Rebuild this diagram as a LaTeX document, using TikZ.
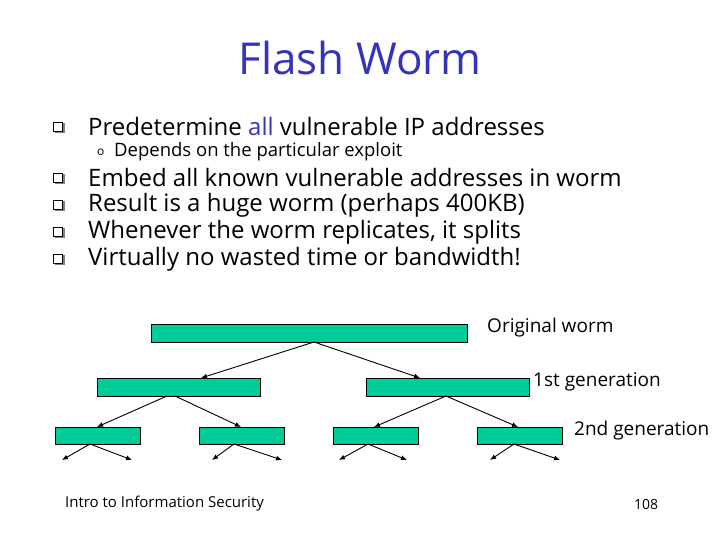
\documentclass[tikz,border=0pt]{standalone}
\usepackage{fontspec}
\setmainfont{Open Sans}
\begin{document}
\begin{tikzpicture}[x=1pt,y=-1pt,
  wb/.style={draw=black,fill=wg,minimum height=0,inner sep=0,anchor=north west},
  ar/.style={-{Latex[length=6pt,width=5pt]},line width=0.9pt},
  lbl/.style={anchor=west,inner sep=0,font=\fontsize{19}{22}\selectfont},
  bl/.style={anchor=west,inner sep=0,font=\fontsize{24}{28}\selectfont}]
\usetikzlibrary{arrows.meta}
\definecolor{wg}{RGB}{0,204,153}
\definecolor{tb}{RGB}{51,51,187}
\useasboundingbox (0,0) rectangle (720,540);
\node[font=\fontsize{44}{50}\selectfont,text=tb] (t) at (360,58) {Flash Worm};
\foreach \y in {127,178,205,232,259}{
  \draw[gray,line width=1.2pt] (55,\y+5) -- (64,\y+5) -- (64,\y-4);
  \draw[black,fill=white,line width=0.8pt] (53,\y-5) rectangle (62,\y+4);
}
\node[bl] (b1) at (88,127) {Predetermine \textcolor{tb}{all} vulnerable IP addresses};
\node[anchor=west,inner sep=0,font=\fontsize{12}{14}\selectfont] (o) at (97,152) {o};
\node[anchor=west,inner sep=0,font=\fontsize{18.5}{21}\selectfont] (s1) at (114,152) {Depends on the particular exploit};
\node[bl] (b2) at (88,178) {Embed all known vulnerable addresses in worm};
\node[bl] (b3) at (88,205) {Result is a huge worm (perhaps 400KB)};
\node[bl] (b4) at (88,232) {Whenever the worm replicates, it splits};
\node[bl] (b5) at (88,259) {Virtually no wasted time or bandwidth!};
\node[wb,minimum width=316,minimum height=18] (o0) at (151,324) {};
\node[wb,minimum width=163,minimum height=18] (l1) at (97,378) {};
\node[wb,minimum width=163,minimum height=18] (r1) at (366,378) {};
\node[wb,minimum width=85,minimum height=17] (g1) at (55,427) {};
\node[wb,minimum width=85,minimum height=17] (g2) at (199,427) {};
\node[wb,minimum width=85,minimum height=17] (g3) at (333,427) {};
\node[wb,minimum width=85,minimum height=17] (g4) at (477,427) {};
\draw[ar] (314,342) -- (201,378);
\draw[ar] (314,342) -- (420,378);
\draw[ar] (167,396) -- (97,427);
\draw[ar] (175,396) -- (241,427);
\draw[ar] (446,396) -- (374,427);
\draw[ar] (446,396) -- (518,427);
\foreach \s/\a/\b in {90/62/132,234/212/282,368/339/407,514/490/560}{
  \coordinate (p\s) at (\s,444);
  \coordinate (qa\s) at (\a,460);
  \coordinate (qb\s) at (\b,460);
  \draw[ar] (p\s) -- (qa\s);
  \draw[ar] (p\s) -- (qb\s);
}
\node[lbl] (lo) at (487,328) {Original worm};
\node[lbl] (l1t) at (533,382) {1st generation};
\node[lbl] (l2t) at (574,431) {2nd generation};
\node[anchor=west,inner sep=0,font=\fontsize{15}{18}\selectfont] (f) at (65,504) {Intro to Information Security};
\node[anchor=west,inner sep=0,font=\fontsize{14}{17}\selectfont] (pg) at (634,504) {108};
\end{tikzpicture}
\end{document}
